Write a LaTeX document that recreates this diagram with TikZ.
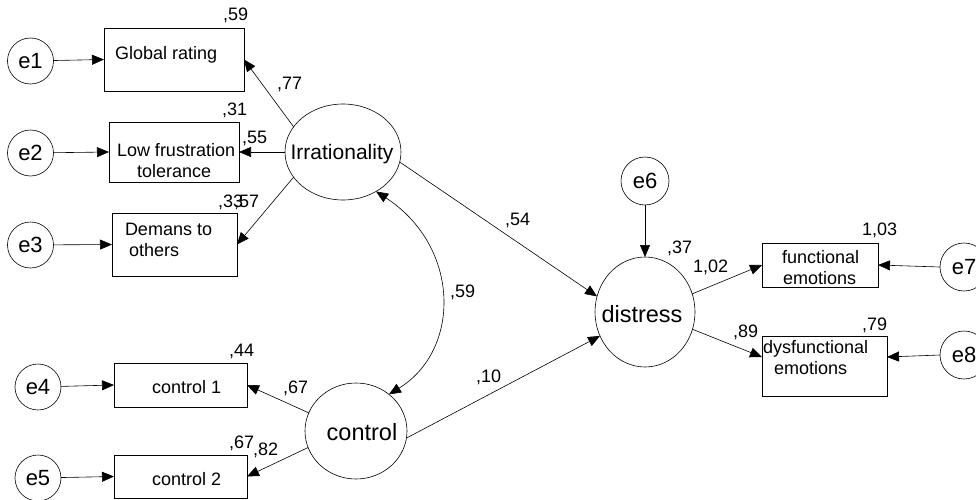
\documentclass[tikz,border=0pt]{standalone}
\usepackage{fontspec}
\setmainfont{Liberation Sans}
\usetikzlibrary{shapes.geometric,arrows.meta}
\begin{document}
\begin{tikzpicture}[x=1pt,y=-1pt,
  every node/.style={inner sep=0pt,outer sep=0pt},
  ln/.style={line width=0.6pt},
  arr/.style={ln,-{Triangle[length=12pt,width=10pt]}},
  darr/.style={ln,{Triangle[length=12pt,width=10pt]}-{Triangle[length=12pt,width=10pt]}},
  err/.style={circle,draw,ln,minimum size=46pt,font=\fontsize{22}{24}\selectfont},
  obs/.style={rectangle,draw,ln},
  lat/.style={ellipse,draw,ln},
  txt/.style={anchor=base west,font=\fontsize{18}{21}\selectfont},
  lab/.style={anchor=base west,font=\fontsize{18}{21}\selectfont}]
\useasboundingbox (0,0) rectangle (976,500);

% latent variables
\node[lat,minimum width=116pt,minimum height=96pt] (irr) at (343,152) {};
\node[font=\fontsize{21}{24}\selectfont] (irrt) at (342,154) {Irrationality};
\node[lat,minimum width=102pt,minimum height=96pt] (ctrl) at (356,431) {};
\node[font=\fontsize{23.5}{26}\selectfont] (ctrlt) at (362,432) {control};
\node[lat,minimum width=100pt,minimum height=110pt] (dist) at (645,312) {};
\node[font=\fontsize{23.5}{26}\selectfont] (distt) at (642,314) {distress};

% observed boxes
\node[obs,minimum width=140pt,minimum height=63pt] (gr) at (174,59.5) {};
\node[txt] (grt) at (115,60) {Global rating};
\node[obs,minimum width=130pt,minimum height=60pt] (lf) at (174,152) {};
\node[txt] (lft1) at (117,156) {Low frustration};
\node[txt] (lft2) at (137,177) {tolerance};
\node[obs,minimum width=125pt,minimum height=63pt] (dm) at (174.5,244.5) {};
\node[txt] (dmt1) at (125,235) {Demans to};
\node[txt] (dmt2) at (129,256) {others};
\node[obs,minimum width=133pt,minimum height=44pt] (c1) at (180.5,385) {};
\node[txt] (c1t) at (152,393) {control 1};
\node[obs,minimum width=133pt,minimum height=43pt] (c2) at (180.5,476.5) {};
\node[txt] (c2t) at (152,485) {control 2};
\node[obs,minimum width=116pt,minimum height=44pt] (fe) at (820,265) {};
\node[txt] (fet1) at (782,263) {functional};
\node[txt] (fet2) at (783,284) {emotions};
\node[obs,minimum width=125pt,minimum height=60pt] (df) at (824.5,366) {};
\node[txt] (dft1) at (763,353) {dysfunctional};
\node[txt] (dft2) at (774,374) {emotions};

% error terms
\node[err] (e1) at (30.5,61) {e1};
\node[err] (e2) at (30.5,153) {e2};
\node[err] (e3) at (30.5,245) {e3};
\node[err] (e4) at (38,387) {e4};
\node[err] (e5) at (38,478) {e5};
\node[err,minimum size=48pt] (e6) at (645,181) {e6};
\node[err,minimum size=48pt] (e7) at (964,267) {e7};
\node[err,minimum size=48pt] (e8) at (964,355) {e8};

% arrows
\draw[arr] (e1) -- (gr.west);
\draw[arr] (e2) -- (lf.west);
\draw[arr] (e3) -- (dm.west);
\draw[arr] (e4) -- (c1.west);
\draw[arr] (e5) -- (c2.west);
\draw[arr] (e6) -- (dist.north);
\draw[arr] (e7.west) -- (fe.east);
\draw[arr] (e8.west) -- ([yshift=9pt]df.east);

\draw[arr] (irr.153) -- (gr.east);
\draw[arr] (irr.west) -- (lf.east);
\draw[arr] (irr.207.5) -- (dm.east);
\draw[arr] (irr.-10) -- (dist.162);
\draw[arr] (ctrl.159) -- (c1.east);
\draw[arr] (ctrl.199.5) -- (c2.east);
\draw[arr] (ctrl.-8) -- (dist.208);
\draw[arr] (dist.21.6) -- (fe.west);
\draw[arr] (dist.-20.6) -- ([yshift=9pt]df.west);
\draw[darr] (ctrl.48) .. controls (461,350) and (461,247) .. (irr.-50);

% coefficients
\node[lab] (l59) at (223,21) {,59};
\node[lab] (l31) at (222,116) {,31};
\node[lab] (l55) at (242,143) {,55};
\node[lab] (l77) at (277,90) {,77};
\node[lab] (l33) at (218,207) {,33};
\node[lab] (l57) at (234,207) {,57};
\node[lab] (l44) at (229,356) {,44};
\node[lab] (l67a) at (283,393) {,67};
\node[lab] (l67b) at (229,448) {,67};
\node[lab] (l82) at (253,455) {,82};
\node[lab] (l59b) at (450,297) {,59};
\node[lab] (l54) at (505,225) {,54};
\node[lab] (l10) at (476,382) {,10};
\node[lab] (l37) at (667,253) {,37};
\node[lab] (l102) at (693,272) {1,02};
\node[lab] (l103) at (862,235) {1,03};
\node[lab] (l79) at (862,330) {,79};
\node[lab] (l89) at (733,337) {,89};
\end{tikzpicture}
\end{document}
